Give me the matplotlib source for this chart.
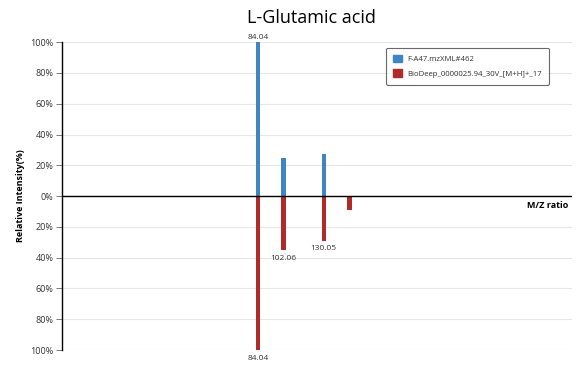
import matplotlib
matplotlib.use("Agg")
import matplotlib.pyplot as plt
from matplotlib.patches import Patch

plt.rcParams['font.family'] = ['Open Sans', 'DejaVu Sans']

title = "L-Glutamic acid"
query_name = "F-A47.mzXML#462"
ref_name = "BioDeep_0000025.94_30V_[M+H]+_17"
query_mz = [84.04, 102.06, 130.05]
query_int = [100, 25, 27.5]
ref_mz = [84.04, 102.06, 130.05, 148.06]
ref_int = [100, 35, 29, 9]
query_labels = ["84.04"]
ref_labels = ["84.04", "102.06", "130.05"]
blue = "#3f85c4"
red = "#b02a2a"

fig = plt.figure(figsize=(5.76, 3.66), dpi=100)
ax = fig.add_axes([0.1076, 0.0437, 0.885, 0.841])

ax.bar(query_mz, query_int, width=3.0, color=blue)
ax.bar(ref_mz, [-v for v in ref_int], width=3.0, color=red)

for m, v in zip(query_mz, query_int):
    if "%.2f" % m in query_labels:
        ax.text(m, v + 1, "%.2f" % m, ha='center', va='bottom', fontsize=6, color='#333333')
for m, v in zip(ref_mz, ref_int):
    if "%.2f" % m in ref_labels:
        ax.text(m, -v - 3, "%.2f" % m, ha='center', va='top', fontsize=6, color='#333333')

ax.set_xlim(-52.5, 303)
ax.set_ylim(-100, 100)
ticks = [-100, -80, -60, -40, -20, 0, 20, 40, 60, 80, 100]
ax.set_yticks(ticks)
ax.set_yticklabels(["%d%%" % abs(t) for t in ticks], fontsize=6.5, color='#333333')
ax.set_xticks([])
ax.grid(axis='y', color='#e6e6e6', linewidth=0.8)
ax.set_axisbelow(True)
ax.axhline(0, color='black', linewidth=1)
for s in ['top', 'right', 'bottom']:
    ax.spines[s].set_visible(False)
ax.spines['left'].set_linewidth(1)
ax.tick_params(axis='y', length=4, width=0.6, color='#666666', pad=2)

ax.set_ylabel("Relative Intensity(%)", fontsize=6.5, fontweight='bold', labelpad=4)
ax.text(0.993, 0.485, "M/Z ratio", transform=ax.transAxes, ha='right', va='top',
        fontsize=6.5, fontweight='bold')
fig.text(0.54, 0.975, title, ha='center', va='top', fontsize=13)

handles = [Patch(color=blue), Patch(color=red)]
leg = ax.legend(handles, [query_name, ref_name], loc='upper right', fontsize=5.6,
                frameon=True, fancybox=True, edgecolor='#444444', handlelength=1.1,
                handleheight=1.1, handletextpad=0.7, borderpad=0.9, labelspacing=0.8,
                bbox_to_anchor=(0.963, 0.995))
leg.get_frame().set_linewidth(0.8)
for t in leg.get_texts():
    t.set_color('#333333')

fig.savefig("out.png", dpi=100)
